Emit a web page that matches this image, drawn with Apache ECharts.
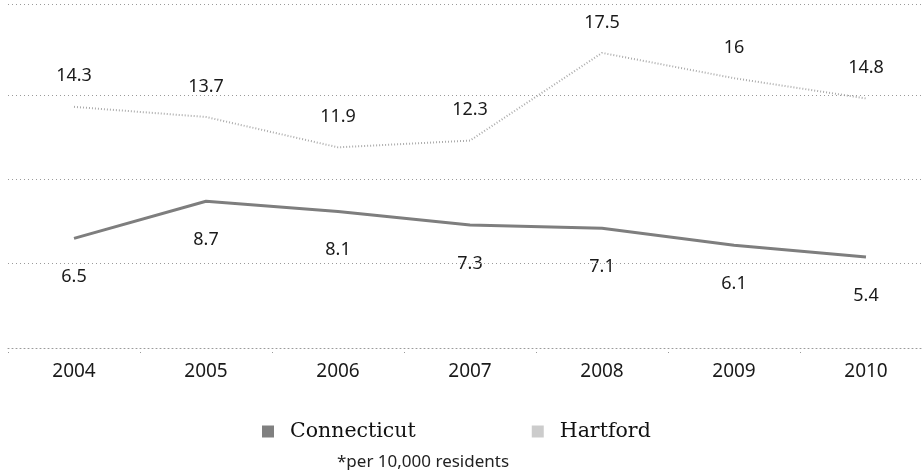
<!DOCTYPE html>
<html>
<head>
<meta charset="utf-8">
<script src="https://cdn.jsdelivr.net/npm/echarts@6/dist/echarts.min.js"></script>
<style>
  html, body { margin: 0; padding: 0; background: #fff; overflow: hidden; }
  /* the plot runs a little past the right edge of the picture */
  #chart { width: 932px; height: 470px; }
</style>
</head>
<body>
<div id="chart"></div>
<script>
// data
const years = ['2004', '2005', '2006', '2007', '2008', '2009', '2010']
const connecticut = [6.5, 8.7, 8.1, 7.3, 7.1, 6.1, 5.4]
const hartford = [14.3, 13.7, 11.9, 12.3, 17.5, 16, 14.8]
// dotted reference lines (the top one is the frame)
const gridLevels = [5, 10, 15, 20.4]
const footnote = '*per 10,000 residents'

const chart = echarts.init(document.getElementById('chart'))

const dotted = { color: '#9a9a9a', width: 1, type: [1, 3] }

chart.setOption({
  animation: false,
  title: {
    text: footnote,
    left: 332,
    top: 449,
    textStyle: { fontFamily: 'Noto Sans', fontSize: 17, fontWeight: 'normal', color: '#222' }
  },
  legend: {
    left: 262,
    top: 421,
    padding: 0,
    icon: 'rect',
    itemWidth: 12,
    itemHeight: 12,
    itemGap: 116,
    textStyle: { fontFamily: 'DejaVu Serif', fontSize: 20.5, color: '#111', padding: [0, 0, 0, 11] },
    data: [
      { name: 'Connecticut', itemStyle: { color: '#808080', borderWidth: 0 } },
      { name: 'Hartford', itemStyle: { color: '#cccccc', borderWidth: 0 } }
    ]
  },
  grid: { left: 8, right: 0, top: 4, bottom: 122 },
  xAxis: {
    type: 'category',
    data: years,
    boundaryGap: true,
    axisLine: { lineStyle: dotted },
    axisTick: { show: true, length: 8, lineStyle: dotted },
    axisLabel: { fontFamily: 'Noto Sans', fontSize: 19, color: '#1a1a1a', margin: 14 },
    splitLine: { show: false }
  },
  yAxis: {
    type: 'value',
    min: 0,
    max: 20.4,
    show: false,
    splitLine: { show: false }
  },
  series: [
    {
      name: 'Connecticut',
      type: 'line',
      data: connecticut,
      symbol: 'circle',
      symbolSize: 1,
      itemStyle: { color: 'rgba(0,0,0,0)' },
      lineStyle: { color: '#7e7e7e', width: 3 },
      label: {
        show: true,
        position: 'bottom',
        distance: 29,
        fontFamily: 'Noto Sans',
        fontSize: 18,
        color: '#1a1a1a'
      },
      markLine: {
        silent: true,
        symbol: 'none',
        label: { show: false },
        lineStyle: dotted,
        data: gridLevels.map(v => ({ yAxis: v }))
      },
      z: 3
    },
    {
      name: 'Hartford',
      type: 'line',
      data: hartford,
      symbol: 'circle',
      symbolSize: 1,
      itemStyle: { color: 'rgba(0,0,0,0)' },
      lineStyle: { color: '#ababab', width: 2, type: [1, 2] },
      label: {
        show: true,
        position: 'top',
        distance: 21,
        fontFamily: 'Noto Sans',
        fontSize: 18,
        color: '#1a1a1a'
      },
      z: 3
    }
  ]
})

window.addEventListener('resize', () => chart.resize())
</script>
</body>
</html>
